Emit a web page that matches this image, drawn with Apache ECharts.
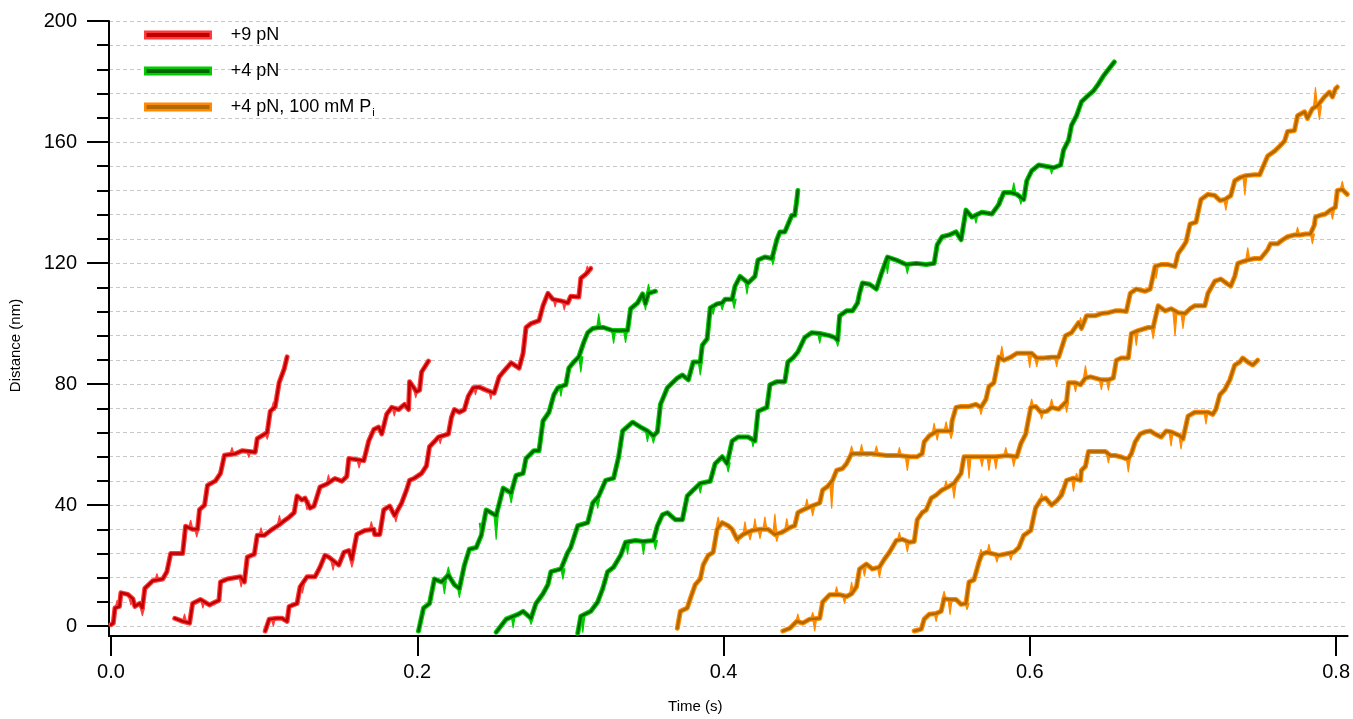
<!DOCTYPE html>
<html>
<head>
<meta charset="utf-8">
<title>Optical trap stepping traces</title>
<script src="https://cdn.jsdelivr.net/npm/echarts@6/dist/echarts.min.js"></script>
<style>
  html, body { margin: 0; padding: 0; background: #ffffff; }
  #chart { width: 1353px; height: 719px; }
</style>
</head>
<body>
<div id="chart"></div>
<script>
// ---------- axis ticks ----------
const timeTicks = [0, 0.2, 0.4, 0.6, 0.8];
const distanceTicks = [0, 40, 80, 120, 160, 200];
const distanceMinorTicks = [0, 8, 16, 24, 32, 40, 48, 56, 64, 72, 80, 88, 96, 104, 112, 120,
  128, 136, 144, 152, 160, 168, 176, 184, 192, 200];

// ---------- legend / condition names ----------
const conditionNames = ['+9 pN', '+4 pN', '+4 pN, 100 mM Pi'];

// ---------- filtered stepping traces: [time (s), distance (nm)] ----------
const trace9pN_a = [[0,0.5],[0.0015,1],[0.0026,6],[0.0055,6.5],[0.0065,11],[0.0110,10.5],[0.0143,9],[0.0156,6.5],[0.0188,7.5],[0.0205,6],[0.0221,12.5],[0.0273,15],[0.0338,15.6],[0.0365,18],[0.0390,24],[0.0468,24],[0.0487,33],[0.0533,32],[0.0565,32],[0.0578,38.5],[0.0611,40],[0.0630,46.5],[0.0682,48],[0.0715,50.5],[0.0741,56.5],[0.0812,57],[0.0858,58],[0.0942,57.5],[0.0955,62],[0.1020,64],[0.1040,71],[0.1072,72.5],[0.1098,80.5],[0.1131,85],[0.1150,89]];
const trace9pN_b = [[0.0416,2.6],[0.0468,1.6],[0.0513,1],[0.0533,7.5],[0.0585,8.8],[0.0643,7],[0.0682,8],[0.0705,8.5],[0.0715,14.6],[0.0760,15.6],[0.0845,16.3],[0.0871,14.6],[0.0890,22.8],[0.0936,23.8],[0.0955,30],[0.1001,30],[0.1053,32],[0.1098,33.5],[0.1131,34.8],[0.1163,36],[0.1196,37.5],[0.1215,43],[0.1248,41.7],[0.1267,42.3],[0.1300,39],[0.1326,39.7],[0.1365,46],[0.1410,47],[0.1462,48.8],[0.1508,47.9],[0.1540,49.5],[0.1553,55.4],[0.1651,54.7],[0.1683,61.2],[0.1716,65],[0.1748,65.8],[0.1768,63.5],[0.1800,70],[0.1833,72.3],[0.1878,71.6],[0.1917,73.3],[0.1943,71.6],[0.1950,80.8],[0.1995,77.5],[0.2015,78],[0.2028,84],[0.2073,87.6]];
const trace9pN_c = [[0.1007,-1.6],[0.1033,2.3],[0.1085,2.6],[0.1118,2.6],[0.1150,1.6],[0.1163,6.5],[0.1215,7.5],[0.1235,13],[0.1280,16.3],[0.1332,16.3],[0.1365,19.5],[0.1397,23.4],[0.1423,22.8],[0.1462,21.2],[0.1488,20.2],[0.1521,24.4],[0.1553,25],[0.1573,22],[0.1605,30.3],[0.1657,31.6],[0.1716,32],[0.1722,30.3],[0.1755,30.3],[0.1781,38.4],[0.1820,39.7],[0.1852,36.5],[0.1898,40.7],[0.1930,45],[0.1950,48.2],[0.1982,48.9],[0.2028,50.5],[0.2060,53],[0.2080,59.3],[0.2112,61],[0.2138,62.5],[0.2203,63.5],[0.2223,69],[0.2242,71.6],[0.2275,70.7],[0.2307,71.5],[0.2333,76],[0.2366,78.8],[0.2405,79],[0.2450,78],[0.2502,77],[0.2535,82.4],[0.2561,84],[0.2613,87],[0.2665,85.3],[0.2691,90.2],[0.2710,98.7],[0.2743,100],[0.2795,101],[0.2821,105.9],[0.2853,110],[0.2886,108],[0.2938,107.5],[0.2983,106.8],[0.3002,109],[0.3055,108.8],[0.3068,115],[0.3100,116.3],[0.3133,118.2]];

const trace4pN_a = [[0.2008,-1.6],[0.2041,6],[0.2080,7.5],[0.2112,15.6],[0.2158,14.6],[0.2203,16.9],[0.2242,13.7],[0.2275,12.4],[0.2307,20],[0.2340,25.4],[0.2385,26],[0.2418,30],[0.2450,38.4],[0.2515,36.5],[0.2561,45.6],[0.2613,44],[0.2645,49.8],[0.2691,50.5],[0.2710,55.4],[0.2762,58],[0.2795,58],[0.2821,67.8],[0.2860,70.7],[0.2892,76.5],[0.2918,78.8],[0.2970,79.8],[0.2990,85.3],[0.3022,87.3],[0.3055,89],[0.3087,93.8],[0.3113,97],[0.3146,98.4],[0.3185,98.7],[0.3217,98.7],[0.3276,97.7],[0.3328,97.7],[0.3373,97.7],[0.3393,104.9],[0.3438,106.8],[0.3471,109.8],[0.3490,106.5],[0.3510,110],[0.3555,110.7]];
const trace4pN_b = [[0.2515,-2],[0.2580,2.3],[0.2658,3.9],[0.2691,4.9],[0.2743,2.6],[0.2775,7.5],[0.2821,10.7],[0.2853,13.7],[0.2873,18],[0.2938,18.9],[0.2983,24.4],[0.3002,26],[0.3048,33.2],[0.3113,34.2],[0.3146,40.7],[0.3185,43],[0.3230,48.2],[0.3282,48.9],[0.3315,56],[0.3341,64.5],[0.3406,67.4],[0.3458,65.8],[0.3503,64.5],[0.3542,62.9],[0.3568,64.2],[0.3588,73.3],[0.3633,78.8],[0.3698,82],[0.3731,83],[0.3770,81.4],[0.3802,87.3],[0.3848,87.3],[0.3861,92.8],[0.3893,95],[0.3913,105.2],[0.3958,106.5],[0.3991,106.8],[0.4010,108],[0.4056,108],[0.4075,112.4],[0.4108,115.6],[0.4160,113.4],[0.4205,115.6],[0.4225,121],[0.4270,122],[0.4316,121.5],[0.4348,127.7],[0.4368,130.3],[0.4400,130.3],[0.4446,135.8],[0.4465,135.8],[0.4478,140.7],[0.4485,144]];
const trace4pN_c = [[0.3048,-2.3],[0.3068,3.3],[0.3133,4.9],[0.3178,8],[0.3211,12.4],[0.3243,18],[0.3282,19.5],[0.3328,23.4],[0.3360,27.7],[0.3425,28.3],[0.3477,28],[0.3542,28.3],[0.3568,33.2],[0.3601,36.8],[0.3633,37.5],[0.3685,35.2],[0.3731,35.2],[0.3763,43],[0.3802,45],[0.3848,47.2],[0.3913,47.9],[0.3945,53.7],[0.3991,56],[0.4023,53.7],[0.4056,61.2],[0.4095,62.5],[0.4160,62.5],[0.4205,61.2],[0.4225,71],[0.4283,72.3],[0.4303,79.8],[0.4348,80.8],[0.4400,80.8],[0.4420,87.3],[0.4452,88.6],[0.4485,90.6],[0.4530,95.4],[0.4576,97],[0.4628,96.7],[0.4693,96],[0.4725,95.4],[0.4745,94.5],[0.4758,102.6],[0.4803,104.2],[0.4842,104.2],[0.4875,106.8],[0.4888,110],[0.4907,113.4],[0.4953,113],[0.4998,111.4],[0.5031,116.6],[0.5070,122],[0.5128,121],[0.5193,119.5],[0.5258,119.9],[0.5323,119.5],[0.5375,119.9],[0.5395,126],[0.5427,128.7],[0.5473,129.3],[0.5518,130.3],[0.5551,127.7],[0.5583,137.5],[0.5622,135.2],[0.5687,136.8],[0.5752,136.2],[0.5798,139.4],[0.5830,143.3],[0.5876,143.3],[0.5915,142.7],[0.5960,141],[0.5980,147.2],[0.6012,150.5],[0.6058,152.4],[0.6103,152],[0.6155,151.5],[0.6201,152.4],[0.6220,157.3],[0.6253,160.6],[0.6272,165.5],[0.6305,168.7],[0.6337,173.3],[0.6370,174.9],[0.6415,176.9],[0.6448,179.2],[0.6480,181.8],[0.6513,184],[0.6552,186.5]];

const trace4pNPi_a = [[0.3698,-0.7],[0.3718,4.9],[0.3763,6],[0.3783,9.1],[0.3815,13.7],[0.3848,15.6],[0.3867,20.2],[0.3900,23.4],[0.3932,24.4],[0.3958,32],[0.3991,34.2],[0.4030,33.2],[0.4056,32],[0.4088,28.7],[0.4127,30.3],[0.4186,31.6],[0.4238,32],[0.4290,32],[0.4335,30.3],[0.4381,31],[0.4433,32.6],[0.4465,33.2],[0.4485,37.5],[0.4517,38.4],[0.4576,39.7],[0.4628,40.7],[0.4647,45],[0.4680,46.2],[0.4712,48.2],[0.4738,51.5],[0.4777,52.1],[0.4803,53.7],[0.4836,57],[0.4888,57],[0.4972,57],[0.5063,56.4],[0.5148,56.4],[0.5213,56],[0.5265,56],[0.5297,57],[0.5310,60.9],[0.5343,62.9],[0.5395,64.5],[0.5486,64.5],[0.5492,67.8],[0.5518,72.3],[0.5551,72.6],[0.5603,72.6],[0.5648,73.3],[0.5681,72.3],[0.5713,74.9],[0.5733,79.2],[0.5765,80.4],[0.5798,88.9],[0.5830,87.9],[0.5876,88.9],[0.5915,90.2],[0.5960,90.2],[0.6012,90.2],[0.6045,88.6],[0.6090,88.6],[0.6142,88.9],[0.6188,88.9],[0.6233,96],[0.6272,97],[0.6318,100.3],[0.6337,98.4],[0.6370,102.6],[0.6428,102.6],[0.6467,103.3],[0.6513,103.6],[0.6558,104.2],[0.6597,104.2],[0.6630,104],[0.6656,110],[0.6695,111.4],[0.6753,110.7],[0.6786,111.4],[0.6818,118.9],[0.6857,119.5],[0.6903,119.5],[0.6948,118.9],[0.6968,123.1],[0.7000,125.4],[0.7020,127],[0.7046,132.9],[0.7085,133.5],[0.7117,141],[0.7163,142.7],[0.7208,142.3],[0.7241,140.7],[0.7273,141],[0.7312,142.3],[0.7338,147.2],[0.7371,148.2],[0.7410,148.9],[0.7468,149.2],[0.7501,149.2],[0.7520,151.5],[0.7553,155.4],[0.7598,157],[0.7631,158.6],[0.7663,160.3],[0.7683,163.5],[0.7728,163.8],[0.7748,168.7],[0.7794,170],[0.7813,167.8],[0.7845,171],[0.7878,172],[0.7923,174.9],[0.7956,176.5],[0.7976,174.9],[0.7995,177.5],[0.8008,178.2]];
const trace4pNPi_b = [[0.4387,-1.6],[0.4433,-0.7],[0.4478,1.6],[0.4517,1],[0.4563,2.3],[0.4628,2.6],[0.4647,8],[0.4693,10.4],[0.4758,10.4],[0.4803,9.8],[0.4836,10.7],[0.4868,13],[0.4888,18.9],[0.4933,20.5],[0.4972,18.9],[0.5018,19.5],[0.5050,22.1],[0.5083,24.4],[0.5128,28.3],[0.5167,28.7],[0.5213,27.7],[0.5245,28],[0.5265,35.2],[0.5297,37.5],[0.5323,38.4],[0.5356,42.3],[0.5388,43.3],[0.5427,45],[0.5473,46.2],[0.5505,47.2],[0.5551,50.5],[0.5570,56],[0.5635,56],[0.5713,56],[0.5778,56],[0.5850,56.4],[0.5915,56],[0.5941,60.3],[0.5973,63.5],[0.6006,72.3],[0.6038,72.6],[0.6071,70.7],[0.6110,71],[0.6142,72.3],[0.6188,71.7],[0.6220,73.3],[0.6240,74.3],[0.6253,80.4],[0.6298,80.4],[0.6331,79.8],[0.6363,82],[0.6396,82.4],[0.6467,81.4],[0.6513,81.4],[0.6545,82],[0.6565,87.9],[0.6597,88.6],[0.6643,88.6],[0.6663,96.7],[0.6708,97.7],[0.6773,98.7],[0.6805,98.7],[0.6838,105.9],[0.6883,104.2],[0.6922,104.9],[0.6968,103.6],[0.7013,103.3],[0.7046,104.9],[0.7078,105.9],[0.7143,105.9],[0.7163,110],[0.7208,114],[0.7247,114.7],[0.7293,113],[0.7312,112.4],[0.7338,115.6],[0.7358,119.9],[0.7390,120.5],[0.7436,121.2],[0.7468,121.5],[0.7507,121.5],[0.7553,124.4],[0.7572,126.4],[0.7618,126.4],[0.7651,127.7],[0.7683,128.7],[0.7728,129.3],[0.7767,129.3],[0.7800,129.6],[0.7832,129.6],[0.7858,132.6],[0.7865,135.2],[0.7897,135.8],[0.7930,136.2],[0.7962,137.5],[0.7995,138.4],[0.8008,144],[0.8040,144.3],[0.8073,142.7]];
const trace4pNPi_c = [[0.5245,-1.6],[0.5291,-1],[0.5310,2.3],[0.5343,3.9],[0.5388,4.2],[0.5421,4.9],[0.5440,9.1],[0.5473,8.8],[0.5518,8.8],[0.5551,7.2],[0.5583,7.5],[0.5603,14.6],[0.5635,15.3],[0.5668,21.2],[0.5687,23.8],[0.5720,24.4],[0.5798,23.4],[0.5895,24.4],[0.5928,26],[0.5960,30],[0.6006,31.6],[0.6038,39.1],[0.6071,41.7],[0.6103,42.3],[0.6142,40],[0.6175,41.4],[0.6207,43.3],[0.6240,48.2],[0.6285,48.9],[0.6331,48.2],[0.6337,51.5],[0.6363,52.8],[0.6383,57.7],[0.6428,57.7],[0.6493,57.7],[0.6526,56.4],[0.6558,56.4],[0.6591,56],[0.6623,55.4],[0.6643,55.4],[0.6663,57],[0.6688,60.9],[0.6721,63.5],[0.6753,64.2],[0.6786,64.5],[0.6818,63.5],[0.6857,62.5],[0.6890,64.5],[0.6922,64.2],[0.6955,63.5],[0.6981,62.9],[0.7000,61.9],[0.7033,69.4],[0.7078,70.7],[0.7163,70.7],[0.7195,70],[0.7215,71.7],[0.7241,76.5],[0.7273,78.2],[0.7306,81.4],[0.7338,86.3],[0.7371,87.3],[0.7390,88.6],[0.7423,87.3],[0.7456,86.3],[0.7488,87.9]];

// ---------- unfiltered noise excursions: [time (s), trace level (nm), excursion tip (nm)] ----------
const spikes9pN = [[0.0040,6,8.5],[0.0130,9.5,7],[0.0205,6,3.5],[0.0300,15.3,17.3],[0.0520,32.3,35],[0.0560,32,29.5],[0.0790,57,59],[0.0900,57.7,55.8],[0.1020,64,61.8],[0.1060,71.5,74],
  [0.0480,1.5,4],[0.0600,8.5,6],[0.0850,16,13],[0.0980,30,32.5],[0.1100,33.6,36.5],[0.1280,41.5,38.5],[0.1420,47.2,50],[0.1620,54.8,52.3],[0.1850,72,69.5],[0.1990,78,75.5],
  [0.1060,2.5,0],[0.1250,14,11],[0.1450,21.5,18.5],[0.1573,22,19.5],[0.1700,31.8,34.5],[0.1860,37,34.5],[0.2150,62.8,60.3],[0.2380,79,76.5],[0.2480,77.7,75],[0.2900,108,105.5],[0.2960,107.2,104.5],[0.3110,116.5,119]];
const spikes4pN = [[0.2177,15,10.7],[0.2203,16.9,19.5],[0.2275,13,9.5],[0.2418,34,29],[0.2515,36.5,28.7],[0.2613,44,40.7],[0.2938,79.8,76],[0.3068,89,84],[0.3185,98.7,103.2],[0.3282,97.7,93.5],[0.3360,97.7,93.8],[0.3490,108,104.5],[0.3510,110,113],
  [0.2626,3.5,-0.5],[0.2743,2.6,0.6],[0.2951,18.9,15.5],[0.3178,42,39],[0.3503,64.5,61],[0.3542,63,60.5],[0.3848,87.3,83],[0.3932,106,103],[0.3991,106.8,104.5],[0.4069,108,105],[0.4153,114,109.8],[0.4322,122,119.5],
  [0.3081,3.5,-2],[0.3373,28,23.8],[0.3477,28,23.8],[0.3555,28.3,25.4],[0.3848,47,44],[0.4030,54,51],[0.4192,62.5,59.3],[0.4628,96.7,93.5],[0.4745,95,92.5],[0.5070,121,116.6],[0.5200,119.5,116.5],[0.5648,136,133.2],[0.5798,139.4,141.5],[0.5895,143.3,146.5],[0.5941,142,139.5],[0.6142,152,149.5]];
const spikes4pNPi = [[0.3965,33,36],[0.4095,30,27.3],[0.4140,30.5,34.5],[0.4173,31,28.5],[0.4205,31.3,35.5],[0.4238,32,29],[0.4270,32,36],[0.4335,30.5,37],[0.4348,30.5,28],[0.4413,32,35.5],[0.4544,39,42],[0.4582,39.5,36.5],[0.4706,48,39],[0.4836,57,59.5],[0.4901,57,60],[0.4998,57,59.5],[0.5148,56.4,59],[0.5200,56,51.5],[0.5375,63.5,67],[0.5395,64.5,61.5],[0.5453,64.5,67.5],[0.5486,64.5,62],[0.5681,72.5,70],[0.5817,88.5,92.5],[0.5999,90,85.5],[0.6045,88.6,85.8],[0.6175,88.9,85.8],[0.6331,99,102],[0.6825,119,115],[0.7280,141,137.5],[0.7404,148.9,142.5],[0.7865,171.5,178],[0.7891,172,167.5],
  [0.4485,1.5,4],[0.4582,2.3,4.5],[0.4595,2.6,-1.6],[0.4738,10.4,13],[0.4790,10.2,7.5],[0.4836,10.7,14.5],[0.4920,20,16.5],[0.5018,19.5,16],[0.5148,28.5,31],[0.5200,27.8,24.5],[0.5453,45.5,48],[0.5505,47,42.3],[0.5603,56,48.9],[0.5687,56,52.8],[0.5733,56,51.5],[0.5778,56,52],[0.5843,56.4,59],[0.5895,56,52.8],[0.6012,72.3,75],[0.6077,70.7,68.5],[0.6142,72.3,75],[0.6240,74,70.7],[0.6298,80.4,77.5],[0.6363,82,86],[0.6467,81.4,78.2],[0.6513,81.4,78],[0.6695,97.5,92.8],[0.6805,98.7,95],[0.6948,103.8,96],[0.7000,103.3,98.4],[0.7423,121,125],[0.7748,129.3,131.8],[0.7845,129.6,126.4],[0.7976,137.5,134.5],[0.8040,144.3,147],
  [0.5388,4.2,1.6],[0.5440,9,11.5],[0.5479,8.8,3.9],[0.5590,7.5,5.5],[0.5681,23,25.4],[0.5733,24.2,27],[0.5785,23.5,21.2],[0.5876,24,21.8],[0.6077,41.7,43.8],[0.6201,43,45],[0.6285,48.9,44.6],[0.6305,48.5,50.5],[0.6513,57,54],[0.6643,55.4,51],[0.6922,64.2,59.6],[0.6987,62.8,58.6],[0.7150,70.7,66.8]];

// ---------- drawing ----------
const FONT = '"Liberation Sans", Arial, Helvetica, sans-serif';

const groups = [
  { name: conditionNames[0], traces: [trace9pN_a, trace9pN_b, trace9pN_c], spikes: spikes9pN, light: '#FF3B3B', dark: '#BE0000' },
  { name: conditionNames[1], traces: [trace4pN_a, trace4pN_b, trace4pN_c], spikes: spikes4pN, light: '#00CC00', dark: '#006600' },
  { name: conditionNames[2], traces: [trace4pNPi_a, trace4pNPi_b, trace4pNPi_c], spikes: spikes4pNPi, light: '#FF8A00', dark: '#B06800' }
];

// narrow triangular excursion of the raw signal
function spikeRenderer(color) {
  return function (params, api) {
    const a = api.coord([api.value(0), api.value(1)]);
    const b = api.coord([api.value(0), api.value(2)]);
    const half = 2;
    return {
      type: 'polygon',
      shape: { points: [[a[0] - half, a[1]], [b[0], b[1]], [a[0] + half, a[1]]] },
      style: { fill: color, stroke: color, lineWidth: 1.2, lineJoin: 'round' }
    };
  };
}

const series = [];
groups.forEach(function (g) {
  // raw signal band
  g.traces.forEach(function (tr) {
    series.push({
      type: 'line', name: g.name, data: tr, symbol: 'none', silent: true, z: 2,
      lineStyle: { color: g.light, width: 5, join: 'round', cap: 'round' }
    });
  });
  series.push({
    type: 'custom', name: g.name, data: g.spikes, silent: true, z: 2,
    encode: { x: 0, y: [1, 2] },
    renderItem: spikeRenderer(g.light)
  });
});
groups.forEach(function (g) {
  // filtered trace on top
  g.traces.forEach(function (tr) {
    series.push({
      type: 'line', name: g.name, data: tr, symbol: 'none', silent: true, z: 3,
      lineStyle: { color: g.dark, width: 2.6, join: 'round', cap: 'round' }
    });
  });
});

const tickText = { color: '#000', fontSize: 20, fontFamily: FONT };

const option = {
  animation: false,
  backgroundColor: '#ffffff',
  grid: { left: 106, right: 2, top: 21, bottom: 74, containLabel: false },
  legend: {
    left: 144, top: 26, orient: 'vertical', padding: 0,
    itemGap: 18, itemWidth: 65.5, itemHeight: 6.5, icon: 'rect',
    selectedMode: false,
    data: groups.map(function (g) {
      return { name: g.name, itemStyle: { color: g.dark, borderColor: g.light, borderWidth: 2.5 } };
    }),
    formatter: function (name) {
      if (name === conditionNames[2]) return '{txt|' + name.slice(0, -1) + '}{sub|' + name.slice(-1) + '}';
      return '{txt|' + name + '}';
    },
    textStyle: {
      padding: [0, 0, 0, 15],
      rich: {
        txt: { fontSize: 18, lineHeight: 22, color: '#000', fontFamily: FONT },
        sub: { fontSize: 11, lineHeight: 11, color: '#000', fontFamily: FONT, verticalAlign: 'bottom', padding: [0, 0, 0, 1] }
      }
    }
  },
  xAxis: {
    type: 'value', min: -0.0013, max: 0.8075,
    name: 'Time (s)', nameLocation: 'middle', nameGap: 63,
    nameTextStyle: { color: '#000', fontSize: 15, fontFamily: FONT, padding: [0, 66, 0, 0] },
    axisLine: { show: true, onZero: false, lineStyle: { color: '#000', width: 2 } },
    axisTick: { show: true, inside: false, length: 20, customValues: timeTicks, lineStyle: { color: '#000', width: 2 } },
    axisLabel: {
      show: true, margin: 26, customValues: timeTicks, ...tickText,
      formatter: function (v) { return v.toFixed(1); }
    },
    splitLine: { show: false },
    minorTick: { show: false }
  },
  yAxis: [
    {
      type: 'value', min: -3.26, max: 200, position: 'left',
      name: 'Distance (nm)', nameLocation: 'middle', nameGap: 86,
      nameTextStyle: { color: '#000', fontSize: 15, fontFamily: FONT, padding: [0, 34, 0, 0] },
      axisLine: { show: true, onZero: false, lineStyle: { color: '#000', width: 2 } },
      axisTick: { show: true, inside: false, length: 22, customValues: distanceTicks, lineStyle: { color: '#000', width: 2 } },
      axisLabel: { show: true, margin: 32, customValues: distanceTicks, ...tickText },
      splitLine: { show: false }
    },
    {
      type: 'value', min: -3.26, max: 200, position: 'left', offset: 0,
      axisLine: { show: false, onZero: false },
      axisTick: { show: true, inside: false, length: 12, customValues: distanceMinorTicks, lineStyle: { color: '#000', width: 2 } },
      axisLabel: { show: false, customValues: distanceMinorTicks },
      splitLine: { show: true, lineStyle: { color: '#C8C8C8', width: 1, type: [4, 3] } }
    }
  ],
  series: series
};

const chart = echarts.init(document.getElementById('chart'), null, { renderer: 'canvas' });
chart.setOption(option);
</script>
</body>
</html>
